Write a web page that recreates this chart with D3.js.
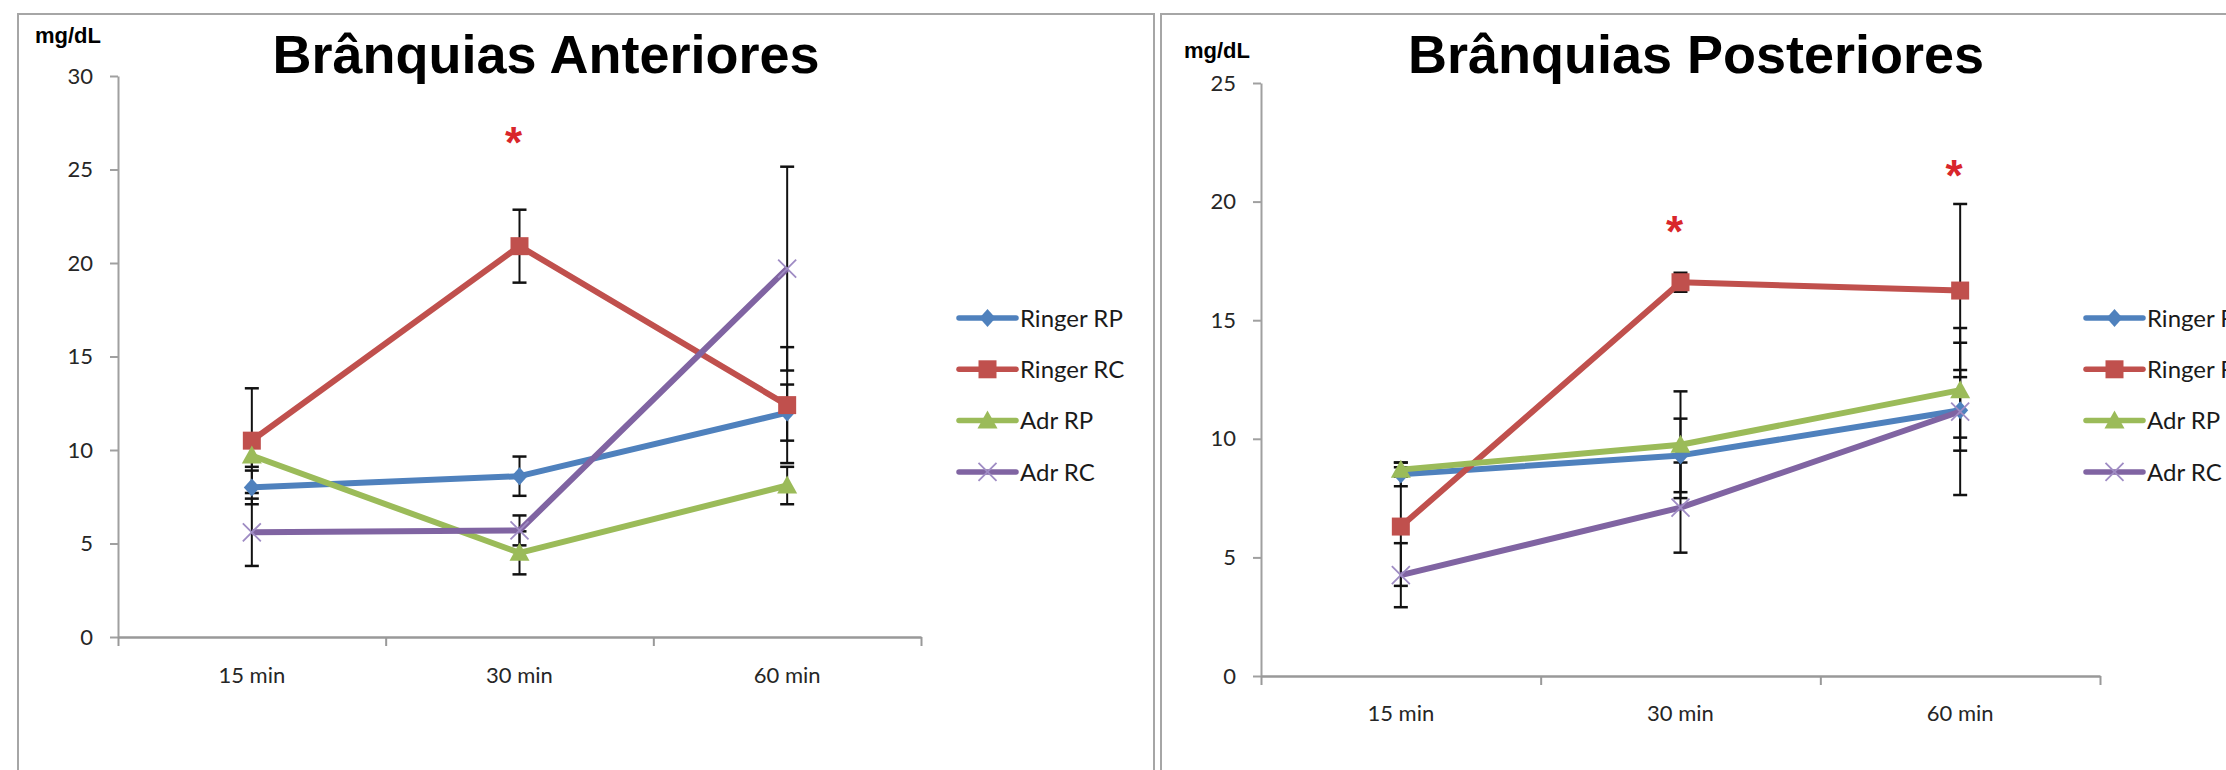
<!DOCTYPE html>
<html><head><meta charset="utf-8">
<script src="https://cdn.jsdelivr.net/npm/d3@7"></script>
<style>
html,body{margin:0;padding:0;background:#fff;}
svg{display:block;}
</style></head>
<body>
<svg id="chart" width="2226" height="770"></svg>
<script>
// ---------- data ----------
const categories = ["15 min", "30 min", "60 min"];
const seriesNames = ["Ringer RP", "Ringer RC", "Adr RP", "Adr RC"];

// Brânquias Anteriores
const antRingerRP = [8.0, 8.6, 12.0];
const antRingerRP_err = [0.9, 1.05, 1.5];
const antRingerRC = [10.5, 20.9, 12.4];
const antRingerRC_err = [2.8, 1.95, 3.1];
const antAdrRP = [9.7, 4.5, 8.1];
const antAdrRP_err = [0.6, 1.15, 1.0];
const antAdrRC = [5.6, 5.7, 19.7];
const antAdrRC_err = [1.8, 0.8, 5.45];
const antYTicks = [0, 5, 10, 15, 20, 25, 30];
const antStars = ["30 min"];

// Brânquias Posteriores
const posRingerRP = [8.5, 9.3, 11.2];
const posRingerRP_err = [0.5, 1.55, 1.7];
const posRingerRC = [6.3, 16.6, 16.25];
const posRingerRC_err = [2.5, 0.4, 3.65];
const posAdrRP = [8.7, 9.75, 12.05];
const posAdrRP_err = [0.3, 2.25, 2.0];
const posAdrRC = [4.25, 7.1, 11.15];
const posAdrRC_err = [1.35, 1.9, 3.52];
const posYTicks = [0, 5, 10, 15, 20, 25];
const posStars = ["30 min", "60 min"];

const titles = ["Brânquias Anteriores", "Brânquias Posteriores"];
const unitLabel = "mg/dL";

// ---------- styles ----------
const colors = ["#4F81BD", "#C0504D", "#9BBB59", "#8064A2"];
const markerTypes = ["diamond", "square", "triangle", "x"];
const tickFont = "Lato, 'Open Sans', sans-serif";

const svg = d3.select("#chart");

function markerPath(type) {
  switch (type) {
    case "diamond": return "M0,-9L8,0L0,9L-8,0Z";
    case "square": return "M-9,-9H9V9H-9Z";
    case "triangle": return "M0,-10L10,8L-10,8Z";
    case "x": return "M-9,-9L9,9M9,-9L-9,9";
  }
}
function drawMarker(g, type, color, x, y) {
  if (type === "x") {
    g.append("path").attr("d", markerPath(type)).attr("transform", `translate(${x},${y})`)
      .attr("fill", "none").attr("stroke", "#9f8cc4").attr("stroke-width", 1.8);
  } else {
    g.append("path").attr("d", markerPath(type)).attr("transform", `translate(${x},${y})`)
      .attr("fill", color);
  }
}

function drawPanel(cfg) {
  const g = svg.append("g");
  // panel border
  g.append("rect").attr("x", cfg.panel[0]).attr("y", cfg.panel[1])
    .attr("width", cfg.panel[2]).attr("height", cfg.panel[3])
    .attr("fill", "none").attr("stroke", "#a6a6a6").attr("stroke-width", 2);

  const x = d3.scaleBand().domain(categories).range(cfg.xRange).padding(0);
  const xEdges = d3.scaleLinear().domain([0, categories.length]).range(cfg.xRange);
  const y = d3.scaleLinear().domain([0, d3.max(cfg.yTicks)]).range(cfg.yRange);
  const cx = c => x(c) + x.bandwidth() / 2;

  // y axis
  const yAx = g.append("g").attr("transform", `translate(${cfg.xRange[0]},0)`)
    .call(d3.axisLeft(y).tickValues(cfg.yTicks).tickSize(8).tickPadding(17).tickSizeOuter(0));
  yAx.select(".domain").attr("stroke", "#a0a0a0").attr("stroke-width", 2);
  yAx.selectAll(".tick line").attr("stroke", "#a0a0a0").attr("stroke-width", 2);
  yAx.selectAll(".tick text").attr("font-family", tickFont).attr("font-size", 22).attr("fill", "#262626");

  // x axis (boundary ticks)
  const xAx = g.append("g").attr("transform", `translate(0,${cfg.yRange[0]})`)
    .call(d3.axisBottom(xEdges).tickValues(d3.range(categories.length + 1)).tickFormat("").tickSize(9).tickSizeOuter(0));
  xAx.select(".domain").attr("stroke", "#999").attr("stroke-width", 2.5);
  xAx.selectAll(".tick line").attr("stroke", "#999").attr("stroke-width", 2);
  // x labels
  const xLab = g.append("g").attr("transform", `translate(0,${cfg.yRange[0]})`)
    .call(d3.axisBottom(x).tickSize(0).tickPadding(cfg.xLabelPad));
  xLab.select(".domain").remove();
  xLab.selectAll(".tick text").attr("font-family", tickFont).attr("font-size", 22).attr("fill", "#262626");

  // error bars (beneath lines/markers)
  const eg = g.append("g");
  cfg.series.forEach((s) => {
    categories.forEach((c, i) => {
      const xc = cx(c), v = s.values[i], e = s.err[i];
      const y1 = y(v + e), y2 = y(v - e);
      eg.append("line").attr("x1", xc).attr("x2", xc).attr("y1", y1).attr("y2", y2)
        .attr("stroke", "#111").attr("stroke-width", 2);
      [y1, y2].forEach(yy => eg.append("line").attr("x1", xc - 7).attr("x2", xc + 7)
        .attr("y1", yy).attr("y2", yy).attr("stroke", "#111").attr("stroke-width", 2.5));
    });
  });

  // lines and markers
  const line = d3.line().x((d, i) => cx(categories[i])).y(d => y(d));
  cfg.series.forEach((s, k) => {
    g.append("path").datum(s.values).attr("d", line).attr("fill", "none")
      .attr("stroke", colors[k]).attr("stroke-width", 6).attr("stroke-linejoin", "round");
    s.values.forEach((v, i) => drawMarker(g, markerTypes[k], colors[k], cx(categories[i]), y(v)));
  });

  // significance stars
  cfg.stars.forEach((c, i) => {
    g.append("text").attr("x", cx(c) + cfg.starDx).attr("y", cfg.starY[i] + 21)
      .attr("text-anchor", "middle").attr("font-family", "'Liberation Sans', Arial, sans-serif")
      .attr("font-weight", "bold").attr("font-size", 44).attr("fill", "#d9262b").text("*");
  });

  // title and unit
  g.append("text").attr("x", cfg.titleX).attr("y", 73).attr("text-anchor", "middle")
    .attr("font-family", "'Liberation Sans', Arial, sans-serif").attr("font-weight", "bold")
    .attr("font-size", 54).attr("fill", "#000").text(cfg.title);
  g.append("text").attr("x", cfg.unitPos[0]).attr("y", cfg.unitPos[1])
    .attr("font-family", "'Liberation Sans', Arial, sans-serif").attr("font-weight", "bold")
    .attr("font-size", 22).attr("fill", "#000").text(unitLabel);

  // legend
  const lg = g.append("g");
  seriesNames.forEach((name, k) => {
    const yy = cfg.legend.y0 + k * 51.3;
    lg.append("line").attr("x1", cfg.legend.x0).attr("x2", cfg.legend.x0 + 57)
      .attr("y1", yy).attr("y2", yy).attr("stroke", colors[k]).attr("stroke-width", 5.5)
      .attr("stroke-linecap", "round");
    drawMarker(lg, markerTypes[k], colors[k], cfg.legend.x0 + 28.5, yy);
    lg.append("text").attr("x", cfg.legend.x0 + 61).attr("y", yy).attr("dy", "0.36em")
      .attr("font-family", tickFont).attr("font-size", 24).attr("fill", "#1a1a1a").text(name);
  });
}

drawPanel({
  title: titles[0], titleX: 546, unitPos: [35, 43],
  panel: [18, 14, 1136, 800],
  xRange: [118, 921], yRange: [637, 76], yTicks: antYTicks, xLabelPad: 30,
  series: [
    {values: antRingerRP, err: antRingerRP_err},
    {values: antRingerRC, err: antRingerRC_err},
    {values: antAdrRP, err: antAdrRP_err},
    {values: antAdrRC, err: antAdrRC_err}
  ],
  stars: antStars, starY: [137], starDx: -6,
  legend: {x0: 959, y0: 318}
});

drawPanel({
  title: titles[1], titleX: 1696, unitPos: [1184, 58],
  panel: [1161, 14, 1100, 800],
  xRange: [1261, 2100], yRange: [676, 83], yTicks: posYTicks, xLabelPad: 29,
  series: [
    {values: posRingerRP, err: posRingerRP_err},
    {values: posRingerRC, err: posRingerRC_err},
    {values: posAdrRP, err: posAdrRP_err},
    {values: posAdrRC, err: posAdrRC_err}
  ],
  stars: posStars, starY: [226, 170], starDx: -6,
  legend: {x0: 2086, y0: 318}
});
</script>
</body></html>
